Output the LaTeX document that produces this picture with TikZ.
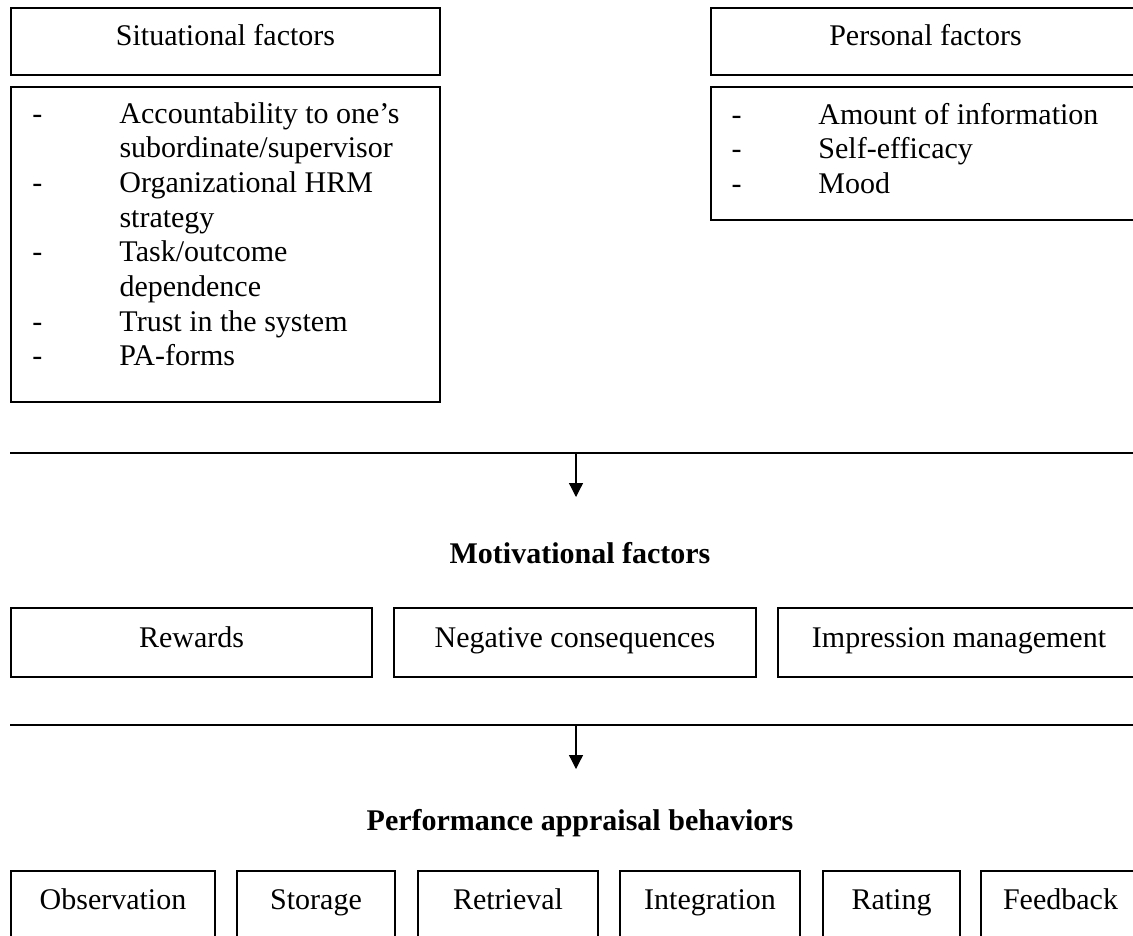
\documentclass[tikz,border=0pt]{standalone}
\usepackage{fontspec}
\setmainfont{Liberation Serif}
\usetikzlibrary{arrows.meta}
\tikzset{
  frame/.style={draw, line width=0.6pt, inner sep=0pt, outer sep=0pt, anchor=north west},
  txt/.style={font=\fontsize{12}{13.88}\selectfont, inner sep=0pt, anchor=base},
  head/.style={txt, font=\fontsize{12}{13.88}\selectfont\bfseries},
  bar/.style={line width=0.6pt},
  flow/.style={line width=0.5pt, -{Triangle[width=5.6pt,length=5.6pt]}},
}
\begin{document}
\begin{tikzpicture}[x=0.4pt, y=-0.4pt]
  \clip (0,0) rectangle (1133,935);

  % antecedents
  \node[frame, minimum width={429*0.4pt}, minimum height={67*0.4pt}] (sithead) at (11,8) {};
  \node[frame, minimum width={429*0.4pt}, minimum height={67*0.4pt}] (perhead) at (711,8) {};
  \node[txt] (sitlbl) at (225.5,45) {Situational factors};
  \node[txt] (perlbl) at (925.5,45) {Personal factors};

  \node[frame, minimum width={429*0.4pt}, minimum height={315*0.4pt}] (sitbox) at (11,87) {};
  \node[frame, minimum width={429*0.4pt}, minimum height={133*0.4pt}] (perbox) at (711,87) {};
  \node[txt, anchor=base west] (sitlist) at (32,123) {%
    \begin{tabular}[t]{@{}p{34.8pt}@{}l@{}}
      - & Accountability to one’s\\
        & subordinate/supervisor\\
      - & Organizational HRM\\
        & strategy\\
      - & Task/outcome\\
        & dependence\\
      - & Trust in the system\\
      - & PA-forms
    \end{tabular}};
  \node[txt, anchor=base west] (perlist) at (731,124) {%
    \begin{tabular}[t]{@{}p{34.8pt}@{}l@{}}
      - & Amount of information\\
      - & Self-efficacy\\
      - & Mood
    \end{tabular}};

  % first transition
  \coordinate (bar1w) at (10,453);
  \coordinate (bar1e) at (1140,453);
  \coordinate (src1) at (576,453);
  \coordinate (tip1) at (576,497);
  \draw[bar] (bar1w) -- (bar1e);
  \draw[flow] (src1) -- (tip1);

  % motivational factors
  \node[head] (motiv) at (580,563) {Motivational factors};
  \node[frame, minimum width={361*0.4pt}, minimum height={69*0.4pt}] (rew) at (11,608) {};
  \node[frame, minimum width={362*0.4pt}, minimum height={69*0.4pt}] (neg) at (394,608) {};
  \node[frame, minimum width={362*0.4pt}, minimum height={69*0.4pt}] (imp) at (778,608) {};
  \node[txt] (rewlbl) at (191.5,647) {Rewards};
  \node[txt] (neglbl) at (575,647) {Negative consequences};
  \node[txt] (implbl) at (959,647) {Impression management};

  % second transition
  \coordinate (bar2w) at (10,725);
  \coordinate (bar2e) at (1140,725);
  \coordinate (src2) at (576,725);
  \coordinate (tip2) at (576,769);
  \draw[bar] (bar2w) -- (bar2e);
  \draw[flow] (src2) -- (tip2);

  % appraisal behaviours
  \node[head] (perf) at (580,830) {Performance appraisal behaviors};
  \node[frame, minimum width={204*0.4pt}, minimum height={90*0.4pt}] (obs) at (11,871) {};
  \node[frame, minimum width={158*0.4pt}, minimum height={90*0.4pt}] (sto) at (237,871) {};
  \node[frame, minimum width={180*0.4pt}, minimum height={90*0.4pt}] (ret) at (418,871) {};
  \node[frame, minimum width={180*0.4pt}, minimum height={90*0.4pt}] (int) at (620,871) {};
  \node[frame, minimum width={137*0.4pt}, minimum height={90*0.4pt}] (rat) at (823,871) {};
  \node[frame, minimum width={159*0.4pt}, minimum height={90*0.4pt}] (fee) at (981,871) {};
  \node[txt] (obslbl) at (113,909) {Observation};
  \node[txt] (stolbl) at (316,909) {Storage};
  \node[txt] (retlbl) at (508,909) {Retrieval};
  \node[txt] (intlbl) at (710,909) {Integration};
  \node[txt] (ratlbl) at (891.5,909) {Rating};
  \node[txt] (feelbl) at (1060.5,909) {Feedback};
\end{tikzpicture}
\end{document}
